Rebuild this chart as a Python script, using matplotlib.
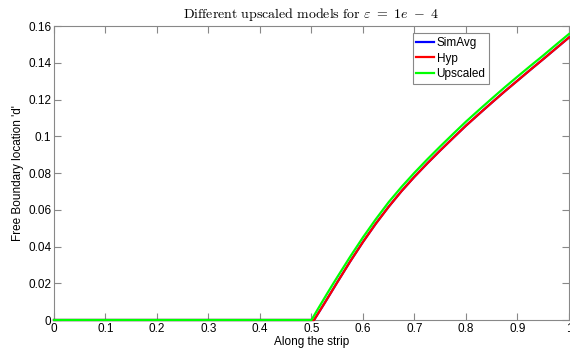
import matplotlib
matplotlib.use("Agg")
import matplotlib.pyplot as plt

plt.rcParams['font.family'] = ['Liberation Sans', 'DejaVu Sans']
plt.rcParams['mathtext.fontset'] = 'cm'

# Data
x_hyp = [0.0, 0.505, 0.515, 0.525, 0.55, 0.575, 0.60, 0.625, 0.65, 0.675, 0.70,
         0.725, 0.75, 0.775, 0.80, 0.825, 0.85, 0.875, 0.90, 0.925, 0.95, 0.975, 1.0]
y_hyp = [0.0, 0.0, 0.0045, 0.009, 0.0205, 0.0318, 0.0425, 0.0525, 0.0617, 0.0702, 0.0780,
         0.0853, 0.0923, 0.0991, 0.1058, 0.1121, 0.1183, 0.1244, 0.1303, 0.1362, 0.142, 0.1479, 0.1538]

x_simavg = x_hyp
y_simavg = y_hyp

x_up = [0.0, 0.50, 0.51, 0.52, 0.53, 0.54, 0.55, 0.575, 0.60, 0.625, 0.65, 0.675, 0.70,
        0.725, 0.75, 0.775, 0.80, 0.825, 0.85, 0.875, 0.90, 0.925, 0.95, 0.975, 1.0]
y_up = [0.0, 0.0, 0.0048, 0.0095, 0.0142, 0.0188, 0.0233, 0.0344, 0.045, 0.0549, 0.0642, 0.0725, 0.0802,
        0.0875, 0.0945, 0.1013, 0.108, 0.1143, 0.1205, 0.1266, 0.1325, 0.1383, 0.144, 0.1499, 0.1557]

xticks = [0, 0.1, 0.2, 0.3, 0.4, 0.5, 0.6, 0.7, 0.8, 0.9, 1]
xtick_labels = ['0', '0.1', '0.2', '0.3', '0.4', '0.5', '0.6', '0.7', '0.8', '0.9', '1']
yticks = [0, 0.02, 0.04, 0.06, 0.08, 0.1, 0.12, 0.14, 0.16]
ytick_labels = ['0', '0.02', '0.04', '0.06', '0.08', '0.1', '0.12', '0.14', '0.16']

fig = plt.figure(figsize=(5.7, 3.52), dpi=100)
ax = fig.add_axes([0.0947, 0.0909, 0.9035, 0.835])

ax.plot(x_simavg, y_simavg, color='#0000ff', lw=1.6, label='SimAvg', zorder=3, clip_on=False)
ax.plot(x_hyp, y_hyp, color='#ff0000', lw=1.6, label='Hyp', zorder=3, clip_on=False)
ax.plot(x_up, y_up, color='#00ff00', lw=1.6, label='Upscaled', zorder=3, clip_on=False)

ax.set_xlim(0, 1)
ax.set_ylim(0, 0.16)
ax.set_xticks(xticks)
ax.set_xticklabels(xtick_labels)
ax.set_yticks(yticks)
ax.set_yticklabels(ytick_labels)
ax.tick_params(direction='in', length=5, top=True, right=True, labelsize=8.5,
               color='#888888', pad=2)
for s in ax.spines.values():
    s.set_color('#888888')

ax.set_title(r"$\mathrm{Different\ upscaled\ models\ for\ }\varepsilon\ =\ 1e\ -\ 4$",
             fontsize=10, pad=6)
ax.set_xlabel('Along the strip', fontsize=8.5, labelpad=1)
ax.set_ylabel("Free Boundary location 'd'", fontsize=8.5, labelpad=3)

leg = ax.legend(loc='upper left', bbox_to_anchor=(0.697, 0.975), fontsize=8.5,
                fancybox=False, framealpha=1, edgecolor='#888888',
                handlelength=1.5, handletextpad=0.2, borderpad=0.3,
                labelspacing=0.3, borderaxespad=0)
leg.get_frame().set_linewidth(0.8)
leg.set_zorder(5)

fig.savefig('out.png', dpi=100)
